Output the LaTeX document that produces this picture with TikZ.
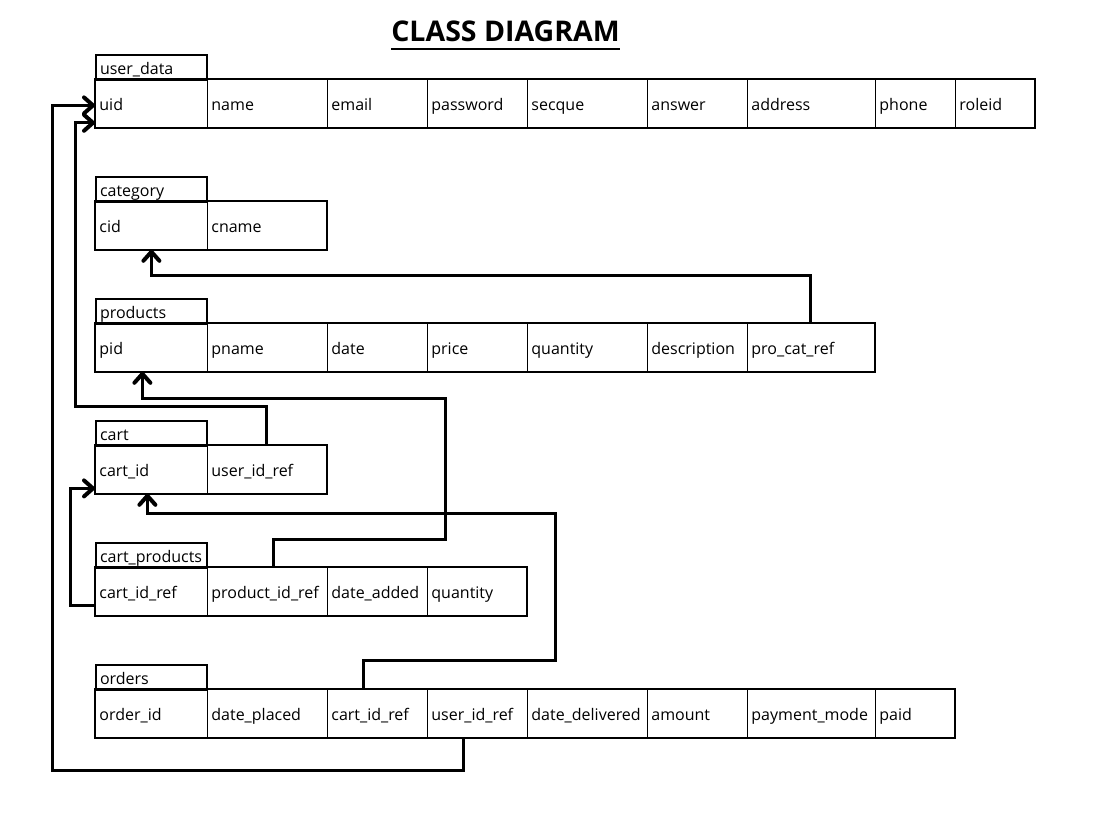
\documentclass[tikz,border=0pt]{standalone}
\usepackage{fontspec}
\setmainfont{Open Sans}
\usepackage{tikz}
\usetikzlibrary{arrows.meta}

\begin{document}
\begin{tikzpicture}[x=1pt,y=-1pt,font=\fontsize{16}{19}\selectfont,
  cell/.style={draw, line width=0.8pt, inner xsep=4pt, inner ysep=0pt, minimum height=48pt, anchor=north west, align=left, text height=15pt, text depth=1pt},
  tname/.style={draw, line width=2pt, inner xsep=4pt, inner ysep=0pt, minimum height=25pt, text width=103pt, anchor=north west, align=left, text height=15pt, text depth=1pt},
  frame/.style={line width=2pt},
  link/.style={line width=3pt, -{Straight Barb[length=9pt,width=16pt,line width=4pt,round]}}]
\useasboundingbox (0,0) rectangle (1108,818);
\node[inner sep=0pt, anchor=base, font=\fontsize{28.5}{33}\selectfont\bfseries] (title) at (505.5,42) {CLASS DIAGRAM};
\draw[line width=2.6pt] ([yshift=-7pt]title.base west) -- ([yshift=-7pt]title.base east);

\node[tname] (ud) at (95,54) {user\_data};
\foreach \a/\b/\t [count=\i, evaluate=\a as \w using \b-\a-8] in {95/207/uid, 207/327/name, 327/427/email, 427/527/password, 527/647/secque, 647/747/answer, 747/875/address, 875/955/phone, 955/1034/roleid}
  \node[cell, text width=\w pt] (ud\i) at (\a,79) {\t};
\draw[frame] (ud1.north west) rectangle (ud9.south east);

\node[tname] (cat) at (95,176) {category};
\foreach \a/\b/\t [count=\i, evaluate=\a as \w using \b-\a-8] in {95/207/cid, 207/326/cname}
  \node[cell, text width=\w pt] (cat\i) at (\a,201) {\t};
\draw[frame] (cat1.north west) rectangle (cat2.south east);

\node[tname] (prd) at (95,298) {products};
\foreach \a/\b/\t [count=\i, evaluate=\a as \w using \b-\a-8] in {95/207/pid, 207/327/pname, 327/427/date, 427/527/price, 527/647/quantity, 647/747/description, 747/874/pro\_cat\_ref}
  \node[cell, text width=\w pt] (prd\i) at (\a,323) {\t};
\draw[frame] (prd1.north west) rectangle (prd7.south east);

\node[tname] (crt) at (95,420) {cart};
\foreach \a/\b/\t [count=\i, evaluate=\a as \w using \b-\a-8] in {95/207/cart\_id, 207/326/user\_id\_ref}
  \node[cell, text width=\w pt] (crt\i) at (\a,445) {\t};
\draw[frame] (crt1.north west) rectangle (crt2.south east);

\node[tname] (cp) at (95,542) {cart\_products};
\foreach \a/\b/\t [count=\i, evaluate=\a as \w using \b-\a-8] in {95/207/cart\_id\_ref, 207/327/product\_id\_ref, 327/427/date\_added, 427/526/quantity}
  \node[cell, text width=\w pt] (cp\i) at (\a,567) {\t};
\draw[frame] (cp1.north west) rectangle (cp4.south east);

\node[tname] (ord) at (95,664) {orders};
\foreach \a/\b/\t [count=\i, evaluate=\a as \w using \b-\a-8] in {95/207/order\_id, 207/327/date\_placed, 327/427/cart\_id\_ref, 427/527/user\_id\_ref, 527/647/date\_delivered, 647/747/amount, 747/875/payment\_mode, 875/954/paid}
  \node[cell, text width=\w pt] (ord\i) at (\a,689) {\t};
\draw[frame] (ord1.north west) rectangle (ord8.south east);

\draw[link] ([xshift=36pt]ord4.south west) -- ++(0,33) -| ([xshift=-43pt,yshift=-2pt]ud1.west) -- ([yshift=-2pt]ud1.west);
\draw[link] (crt2.north) -- ++(0,-39) -| ([xshift=-20pt,yshift=5pt]ud1.south west) -- ([yshift=5pt]ud1.south west);
\draw[link] (prd7.north) -- ++(0,-47) -| (cat1.south);
\draw[link] ([xshift=6pt]cp2.north) -- ++(0,-28) -- ++(172,0) -- ++(0,-141) -| ([xshift=-9pt]prd1.south);
\draw[link] ([xshift=-14pt]ord3.north) -- ++(0,-29) -- ++(192,0) -- ++(0,-147) -| ([xshift=-4pt]crt1.south);
\draw[link] ([yshift=-14pt]cp1.west) -- ++(-25,0) |- ([yshift=-19pt]crt1.west);
\end{tikzpicture}
\end{document}
